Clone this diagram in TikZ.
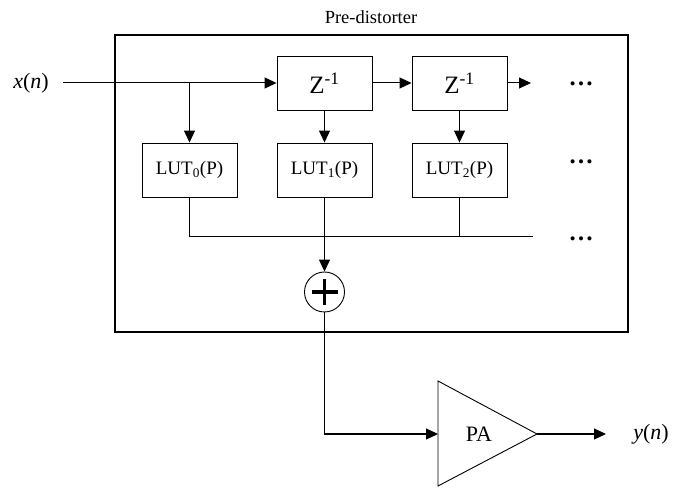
\documentclass[tikz,border=0pt]{standalone}
\usepackage{fontspec}
\setmainfont{Liberation Serif}
\usetikzlibrary{arrows.meta,calc}
\begin{document}
\begin{tikzpicture}[x=1pt,y=1pt,
  line width=1pt,
  arr/.style={-{Triangle[length=12pt,width=11pt]}},
  blk/.style={draw, line width=0.9pt, minimum width=95pt, minimum height=54pt, inner sep=0pt},
  zfont/.style={font=\fontsize{25}{25}\selectfont},
  lfont/.style={font=\fontsize{19}{19}\selectfont},
  tfont/.style={font=\fontsize{22}{22}\selectfont},
  dotsfont/.style={font=\bfseries\fontsize{25}{25}\selectfont}]
\useasboundingbox (0,0) rectangle (674,487);
% outer box
\node[font=\fontsize{18.5}{18.5}\selectfont] (title) at (371,470) {Pre-distorter};
\draw[line width=1.6pt] (115,155) rectangle (628,452);
% input
\node[tfont] (xn) at (31,404) {\textit{x}(\textit{n})};
\coordinate (in) at (63,404);
\coordinate (br) at (189.5,404);
% delay blocks
\node[blk, zfont] (z1) at (324.5,404) {Z\textsuperscript{-1}};
\node[blk, zfont] (z2) at (459.5,404) {Z\textsuperscript{-1}};
\coordinate (zend) at (531,404);
% LUTs
\node[blk, lfont] (l0) at (189.5,317) {LUT\textsubscript{0}(P)};
\node[blk, lfont] (l1) at (324.5,317) {LUT\textsubscript{1}(P)};
\node[blk, lfont] (l2) at (459.5,317) {LUT\textsubscript{2}(P)};
% dots
\node[dotsfont] (d1) at (581,403) {…};
\node[dotsfont] (d2) at (581,325) {…};
\node[dotsfont] (d3) at (581,248) {…};
% bus
\coordinate (b0) at (189.5,250);
\coordinate (b1) at (324.5,250);
\coordinate (b2) at (459.5,250);
\coordinate (bend) at (533,250);
% adder
\node[draw, circle, line width=0.9pt, minimum size=40pt, inner sep=0pt] (add) at (324.5,195) {};
\draw[line width=3.5pt] ($(add.center)+(-13,0)$) -- ($(add.center)+(13,0)$);
\draw[line width=3.5pt] ($(add.center)+(0,-13)$) -- ($(add.center)+(0,13)$);
% PA
\coordinate (pain) at (438,53);
\coordinate (paout) at (537,53);
\coordinate (corner) at (324.5,53);
\draw[line width=0.9pt] (438,106) -- (paout) -- (438,1) -- cycle;
\node[tfont] (pa) at (479,53) {PA};
\coordinate (outend) at (606,53);
\node[tfont] (yn) at (651,53) {\textit{y}(\textit{n})};
% connectors
\draw[arr] (in) -- (z1.west);
\draw[arr] (br) -- (l0.north);
\draw[arr] (z1.east) -- (z2.west);
\draw[arr] (z2.east) -- (zend);
\draw[arr] (z1.south) -- (l1.north);
\draw[arr] (z2.south) -- (l2.north);
\draw (l0.south) -- (b0) -- (bend);
\draw (l1.south) -- (b1);
\draw (l2.south) -- (b2);
\draw[arr] (b1) -- (add.north);
\draw[arr] (add.south) -- (corner) -- (pain);
\draw[arr] (paout) -- (outend);
\end{tikzpicture}
\end{document}
